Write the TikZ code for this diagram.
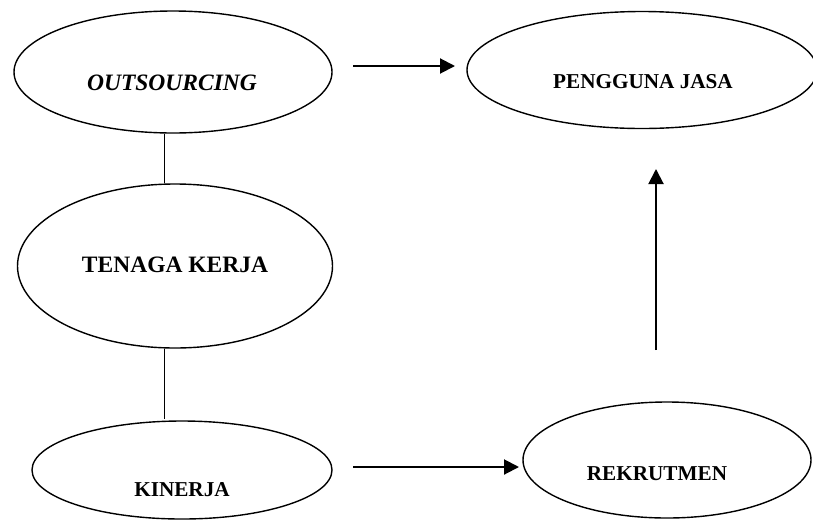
\documentclass[tikz,border=0pt]{standalone}
\usepackage{fontspec}
\setmainfont{Liberation Serif}
\usetikzlibrary{shapes.geometric,arrows.meta}
\begin{document}
\begin{tikzpicture}[x=1pt,y=-1pt,
  oval/.style={draw, ellipse, line width=1.4pt, inner sep=0pt},
  big/.style={font=\fontsize{23.5}{28}\selectfont\bfseries, anchor=base, inner sep=0pt},
  small/.style={font=\fontsize{21.2}{26}\selectfont\bfseries, anchor=base, inner sep=0pt},
  link/.style={line width=1pt},
  flow/.style={line width=2pt, -{Triangle[length=15pt,width=15pt]}}]
\useasboundingbox (0,0) rectangle (813,520);
\node[oval, minimum width=318pt, minimum height=122pt] (o) at (173,72) {};
\node[oval, minimum width=350pt, minimum height=117pt] (p) at (642,70) {};
\node[oval, minimum width=315pt, minimum height=164pt] (t) at (175,266) {};
\node[oval, minimum width=300pt, minimum height=98pt] (k) at (182,470) {};
\node[oval, minimum width=288pt, minimum height=116pt] (r) at (667,460) {};
\node[big] (ot) at (172,90) {\itshape OUTSOURCING};
\node[small] (pt) at (643,88) {PENGGUNA JASA};
\node[big] (tt) at (175,272) {TENAGA KERJA};
\node[small] (kt) at (182,496) {KINERJA};
\node[small] (rt) at (657,480) {REKRUTMEN};
\draw[link] ([xshift=-9pt]o.south) -- ([xshift=-11pt]t.north);
\draw[link] ([xshift=-11pt]t.south) -- ([xshift=-18pt,yshift=1pt]k.north);
\coordinate (a1) at (353,66);
\coordinate (a2) at (455,66);
\coordinate (b1) at (353,467);
\coordinate (b2) at (519,467);
\coordinate (c1) at (656,350);
\coordinate (c2) at (656,169);
\draw[flow] (a1) -- (a2);
\draw[flow] (b1) -- (b2);
\draw[flow] (c1) -- (c2);
\end{tikzpicture}
\end{document}
